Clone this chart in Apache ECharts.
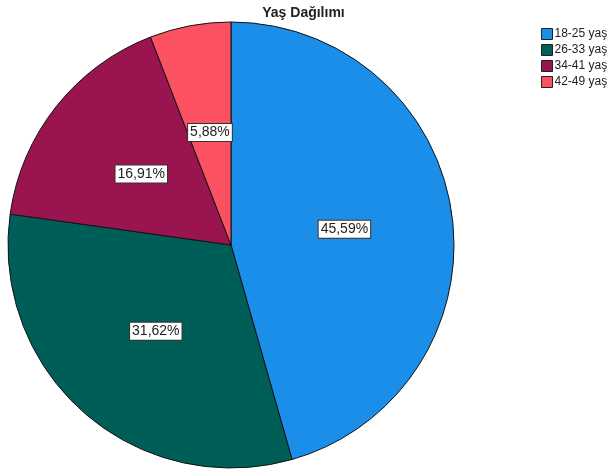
<!DOCTYPE html>
<html><head><meta charset="utf-8">
<script src="https://cdn.jsdelivr.net/npm/echarts@6/dist/echarts.min.js"></script>
<style>html,body{margin:0;padding:0;background:#fff}#c{width:607px;height:474px}</style>
</head><body><div id="c"></div>
<script>
const categories = ['18-25 yaş', '26-33 yaş', '34-41 yaş', '42-49 yaş'];
const values = [45.59, 31.62, 16.91, 5.88];
const colors = ['#1a8ee8', '#005e58', '#9a1550', '#fb5160'];
const chart = echarts.init(document.getElementById('c'));
chart.setOption({
  animation: false,
  title: { text: 'Yaş Dağılımı', left: 'center', top: 1,
    textStyle: { fontFamily: 'Arial, Liberation Sans', fontSize: 14, fontWeight: 'bold', color: '#222' } },
  legend: {
    orient: 'vertical', left: 536, top: 23, itemWidth: 11, itemHeight: 11, itemGap: 4,
    icon: 'rect',
    itemStyle: { borderColor: '#222', borderWidth: 1 },
    textStyle: { fontFamily: 'Arial, Liberation Sans', fontSize: 12, color: '#222', padding: [0,0,0,-3] },
    data: categories
  },
  series: [{
    type: 'pie', center: [231, 245], radius: 223, startAngle: 90, clockwise: true,
    itemStyle: { borderColor: '#111', borderWidth: 1 },
    label: {
      show: true, position: 'inside',
      formatter: p => p.value.toFixed(2).replace('.', ',') + '%',
      backgroundColor: '#fff', borderColor: '#333', borderWidth: 1,
      padding: [2, 2, 1, 2], color: '#222',
      fontFamily: 'Arial, Liberation Sans', fontSize: 14
    },
    labelLine: { show: false },
    emphasis: { disabled: true },
    data: categories.map((n, i) => ({ name: n, value: values[i], itemStyle: { color: colors[i] } }))
  }]
});
</script></body></html>
